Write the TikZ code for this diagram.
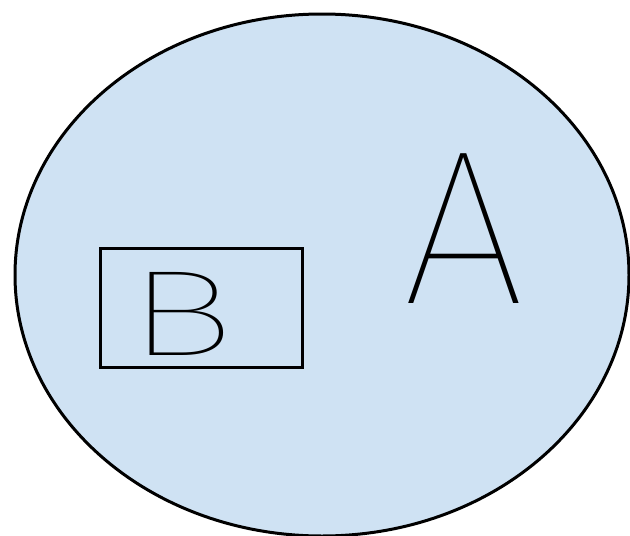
\documentclass[tikz,border=0pt]{standalone}
\usepackage{fontspec}
\newfontfamily\handfont{Fira Sans}[UprightFont={* Thin}]
\definecolor{setblue}{HTML}{CFE2F3}
\begin{document}
\begin{tikzpicture}[x=1pt,y=-1pt,
  setline/.style={draw=black,line width=3pt},
  letter/.style={inner sep=0pt,anchor=base,font=\handfont}]
\useasboundingbox (0,0) rectangle (630,536);
\path[setline,fill=setblue] (322,275) ellipse [x radius=307, y radius=261];
\node[setline,minimum width=202pt,minimum height=119pt,inner sep=0pt] (setB) at (201,307.5) {};
\node[letter,font=\handfont\fontsize{220}{220}\selectfont] (labelA) at (464,303) {A};
\node[letter,xscale=1.5,font=\handfont\fontsize{122}{122}\selectfont] (labelB) at (181,355) {B};
\end{tikzpicture}
\end{document}
